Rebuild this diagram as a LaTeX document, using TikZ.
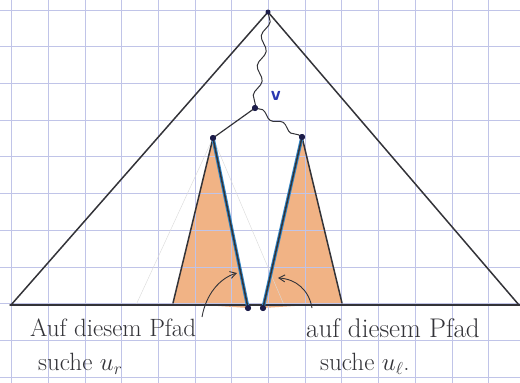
\documentclass[tikz,border=0pt]{standalone}
\usetikzlibrary{positioning, arrows.meta, decorations.pathmorphing}
\definecolor{paperGrid}{HTML}{C0C4E8}
\definecolor{sketchInk}{HTML}{333338}
\definecolor{coneFill}{HTML}{EFA670}
\definecolor{pathBlue}{HTML}{2F86C8}
\definecolor{dotNavy}{HTML}{1C1C4A}
\definecolor{labelBlue}{HTML}{2A38B0}

\begin{document}
\begin{tikzpicture}[x=1pt, y=-1pt,
    gridln/.style={draw=paperGrid, line width=0.7pt},
    ink/.style={draw=sketchInk, line width=1.5pt, line cap=round},
    guide/.style={draw=gray!30, line width=0.4pt},
    wavy/.style={draw=sketchInk, line width=1pt, decorate, decoration={snake, segment length=30pt, amplitude=3.5pt}},
    hilite/.style={draw=pathBlue, line width=3.4pt, line cap=round},
    knot/.style={circle, fill=dotNavy, inner sep=0pt, minimum size=6pt},
    txt/.style={font=\fontsize{25}{30}\selectfont, color=sketchInk, anchor=west, inner sep=0pt},
    ptr/.style={draw=sketchInk, line width=0.9pt, -{Straight Barb[length=6pt, width=7pt]}},
]
\useasboundingbox (0,0) rectangle (520,383);
\coordinate (root) at (268,12);
\coordinate (bl) at (11,305);
\coordinate (br) at (519,305);
\node[knot] (v) at (255,108) {};
\node[knot] (lc) at (213,138) {};
\node[knot] (rc) at (302,137) {};
\coordinate (lfl) at (173,303);
\node[knot] (lfr) at (248,308) {};
\node[knot] (rfl) at (263,308) {};
\coordinate (rfr) at (342,303);

% shaded subtrees
\fill[coneFill, fill opacity=0.85] (lc.center) -- (lfl) -- (lfr.center) -- cycle;
\fill[coneFill, fill opacity=0.85] (rc.center) -- (rfl.center) -- (rfr) -- cycle;

% squared paper
\foreach \i in {0,...,13} \draw[gridln] ({11.5+36.7*\i},0) -- ++(0,383);
\foreach \j in {0,...,10} \draw[gridln] (0,{10+36.7*\j}) -- ++(520,0);

% faint pencil guides
\draw[guide] (lc.center) -- (136,305);
\draw[guide] (lc.center) -- (284,305);

% big triangle
\draw[ink] (bl) -- (root) -- (br);
\draw[ink] (10,305) -- (520,305);

% tree paths
\draw[wavy] (root) -- (v.center);
\draw[wavy, decoration={segment length=24pt, amplitude=2.6pt}] (v.center) -- (rc.center);
\draw[ink, line width=1.2pt] (v.center) -- (lc.center);

% subtree edges
\draw[ink] (lc.center) -- (lfl);
\draw[ink] (rc.center) -- (rfr);
\draw[hilite] (lc.center) -- (lfr.center);
\draw[hilite] (rc.center) -- (rfl.center);
\draw[ink] (lc.center) -- (lfr.center);
\draw[ink] (rc.center) -- (rfl.center);

\node[knot, minimum size=5pt] (rootdot) at (root) {};
\node[knot] at (v) {};
\node[knot] at (lc) {};
\node[knot] at (rc) {};
\node[knot] at (lfr) {};
\node[knot] at (rfl) {};

\node[font=\sffamily\bfseries\fontsize{20}{20}\selectfont, color=labelBlue, above right=2pt and 10pt of v] (vlbl) {v};

% captions
\node[txt] (ltxt) at (30,328) {Auf diesem Pfad};
\node[txt] (ltxt2) at (38,364) {suche $u_r$};
\node[txt, font=\fontsize{27}{30}\selectfont] (rtxt) at (306,328) {auf diesem Pfad};
\node[txt] (rtxt2) at (320,364) {suche $u_\ell$.};

\coordinate (lfrom) at (202,317);
\coordinate (rfrom) at (312,308);
\coordinate (ltip) at (237,273);
\coordinate (rtip) at (278,278);
\draw[ptr] (lfrom) .. controls (206,294) and (220,278) .. (ltip);
\draw[ptr] (rfrom) .. controls (309,290) and (296,279) .. (rtip);
\end{tikzpicture}
\end{document}
